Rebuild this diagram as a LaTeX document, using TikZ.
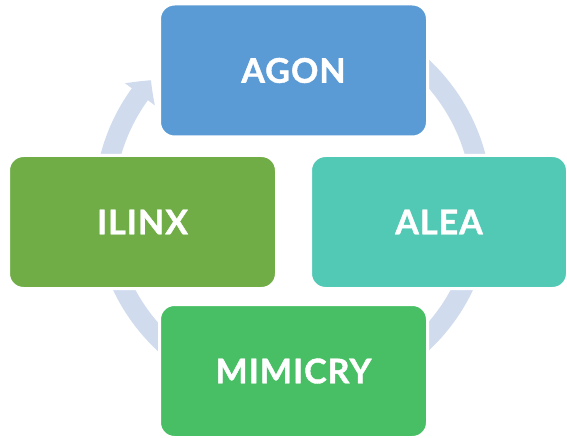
\documentclass[tikz,border=0pt]{standalone}
\usepackage{fontspec}
\setmainfont{Lato}
\newfontfamily\gamefont{Lato}[LetterSpace=3,BoldFeatures={FakeBold=1.2}]
\usetikzlibrary{arrows.meta,bending}
\definecolor{agonblue}{HTML}{5B9BD5}
\definecolor{aleateal}{HTML}{52C9B5}
\definecolor{ilinxgreen}{HTML}{70AD47}
\definecolor{mimicrygreen}{HTML}{48BF64}
\definecolor{ringblue}{HTML}{D0DCEE}

\begin{document}
\begin{tikzpicture}[x=1pt,y=1pt,
    game/.style={draw=white,line width=3pt,rounded corners=15pt,minimum height=133pt,
      text=white,font=\gamefont\bfseries\fontsize{34}{40}\selectfont},
    ring/.style={ringblue,line width=20pt,-{Triangle[width=36pt,length=18pt,bend]}}]
  \useasboundingbox (0,0) rectangle (567,437);
  % cycle ring behind the boxes
  \coordinate (hub) at (293,232);
  \draw[ring] (hub) ++(128:189pt) arc[start angle=128,end angle=-221.3,radius=189pt];
  % the four boxes
  \node[game,fill=agonblue,minimum width=268pt] (agon) at (293.5,366.5) {AGON};
  \node[game,fill=ilinxgreen,minimum width=268pt] (ilinx) at (142.5,215) {ILINX};
  \node[game,fill=aleateal,minimum width=257pt] (alea) at (439,215) {ALEA};
  \node[game,fill=mimicrygreen,minimum width=268pt] (mimicry) at (293.5,66) {MIMICRY};
\end{tikzpicture}
\end{document}
